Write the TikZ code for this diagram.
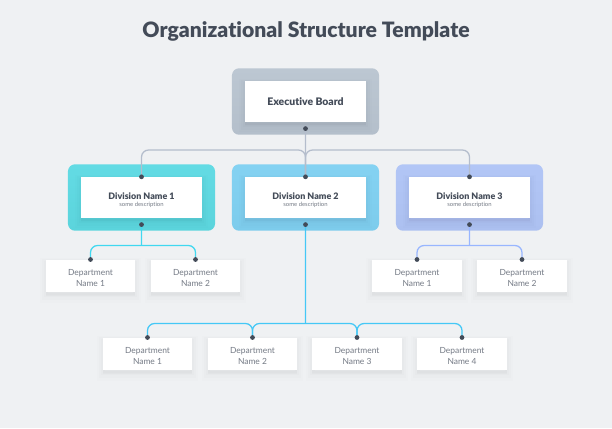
\documentclass[tikz,border=0pt]{standalone}
\usepackage{fontspec}
\usetikzlibrary{calc}
\setmainfont{Lato}[Ligatures=NoCommon]
\newfontfamily\heavyfont{Lato Black}[Ligatures=NoCommon]
\definecolor{pagebg}{HTML}{EFF1F3}
\definecolor{inkdark}{HTML}{434B58}
\definecolor{inkgray}{HTML}{747A85}
\definecolor{linegray}{HTML}{B4BDCC}
\definecolor{linecyan}{HTML}{40D8F0}
\definecolor{linesky}{HTML}{45C8F6}
\definecolor{lineblue}{HTML}{98B6FF}
\definecolor{execup}{HTML}{BCC7D2}
\definecolor{execdn}{HTML}{B4BFCB}
\definecolor{cyanup}{HTML}{63DBE4}
\definecolor{cyandn}{HTML}{5BD4DC}
\definecolor{skyup}{HTML}{84D2F2}
\definecolor{skydn}{HTML}{7DCCEC}
\definecolor{blueup}{HTML}{B2C6F6}
\definecolor{bluedn}{HTML}{ACC0F0}
\newcommand{\leadname}[2]{{\rule{0pt}{8.5pt}\fontsize{6.35}{8}\heavyfont #1}\\[0.1pt]{\fontsize{4.2}{5}\selectfont\color{inkgray} #2}}
\newcommand{\deptname}[1]{\rule{0pt}{7pt}Department\\#1}
\begin{document}
\begin{tikzpicture}[
  x=0.025cm, y=-0.025cm,
  softshadow/.style={
    preaction={draw=black,fill=black,opacity=.008,line width=9pt,transform canvas={yshift=-3pt}},
    preaction={draw=black,fill=black,opacity=.010,line width=6pt,transform canvas={yshift=-2.5pt}},
    preaction={draw=black,fill=black,opacity=.010,line width=3pt,transform canvas={yshift=-2pt}}},
  panel/.style={rectangle, rounded corners=5pt, minimum width=3.675cm, minimum height=1.66cm, inner sep=0pt, top color=#1up, bottom color=#1dn},
  lead/.style={rectangle, fill=white, softshadow, minimum width=3.03cm, minimum height=1.02cm, inner sep=0pt, align=center, text=inkdark, font=\fontsize{5}{5}\selectfont},
  dept/.style={rectangle, fill=white, softshadow, minimum width=2.23cm, minimum height=0.81cm, inner sep=0pt, align=center, text=inkgray, font=\fontsize{6}{7.5}\selectfont},
  pin/.style={circle, fill=inkdark, minimum size=3.4pt, inner sep=0pt},
  link/.style={line width=0.9pt, rounded corners=5pt}
]

\fill[pagebg] (0,0) rectangle (612,428);
\useasboundingbox (0,0) rectangle (612,428);

% Title
\node[text=inkdark, font=\fontsize{15.05}{18}\heavyfont] (title) at (306,31.5) {Organizational Structure Template};

% Panels
\node[panel=exec] (execpanel) at (305.5,101.5) {};
\node[panel=cyan] (divpanelA) at (141.5,197.5) {};
\node[panel=sky] (divpanelB) at (305.5,197.5) {};
\node[panel=blue] (divpanelC) at (469.5,197.5) {};

% Lead boxes
\node[lead] (exec) at (305.5,101.5) {\fontsize{7.4}{9}\heavyfont Executive Board};
\node[lead] (divA) at (141.5,197.5) {\leadname{Division Name 1}{some description}};
\node[lead] (divB) at (305.5,197.5) {\leadname{Division Name 2}{some description}};
\node[lead] (divC) at (469.5,197.5) {\leadname{Division Name 3}{some description}};

% Departments
\node[dept] (deptA) at (90.5,276) {\deptname{Name 1}};
\node[dept] (deptB) at (195.5,276) {\deptname{Name 2}};
\node[dept] (deptC) at (417,276) {\deptname{Name 1}};
\node[dept] (deptD) at (522,276) {\deptname{Name 2}};
\node[dept] (rowA) at (147.5,354) {\deptname{Name 1}};
\node[dept] (rowB) at (252.5,354) {\deptname{Name 2}};
\node[dept] (rowC) at (357,354) {\deptname{Name 3}};
\node[dept] (rowD) at (462,354) {\deptname{Name 4}};

% Pin points
\foreach \n in {divA,divB,divC,deptA,deptB,deptC,deptD,rowA,rowB,rowC,rowD}
  \coordinate (\n pin) at (\n.north);
\foreach \n/\m in {exec/execpanel,divA/divpanelA,divB/divpanelB,divC/divpanelC}
  \coordinate (\n out) at ($(\n.south)!.5!(\m.south)$);

% Bus points
\coordinate (busexec) at (305,150);
\coordinate (busA) at (141.5,245.5);
\coordinate (busC) at (469.5,245.5);
\coordinate (busB) at (305.5,323.5);

% Connectors
\draw[link, linegray] (execout) -- (divBpin);
\draw[link, linegray] (divApin) -- (divApin |- busexec) -- (execout |- busexec) -- (divBpin);
\draw[link, linegray] (divCpin) -- (divCpin |- busexec) -- (execout |- busexec) -- (divBpin);

\draw[link, linecyan] (divAout) -- (busA);
\draw[link, linecyan] (deptApin) -- (deptApin |- busA) -- (deptBpin |- busA) -- (deptBpin);

\draw[link, lineblue] (divCout) -- (busC);
\draw[link, lineblue] (deptCpin) -- (deptCpin |- busC) -- (deptDpin |- busC) -- (deptDpin);

\draw[link, linesky] (divBout) -- (busB);
\foreach \a/\b in {rowA/rowB,rowB/rowC,rowC/rowD}
  \draw[link, linesky] (\a pin) -- (\a pin |- busB) -- (\b pin |- busB) -- (\b pin);

% Pins
\foreach \n in {execout,divApin,divBpin,divCpin,divAout,divBout,divCout,deptApin,deptBpin,deptCpin,deptDpin,rowApin,rowBpin,rowCpin,rowDpin}
  \node[pin] at (\n) {};

\end{tikzpicture}
\end{document}
